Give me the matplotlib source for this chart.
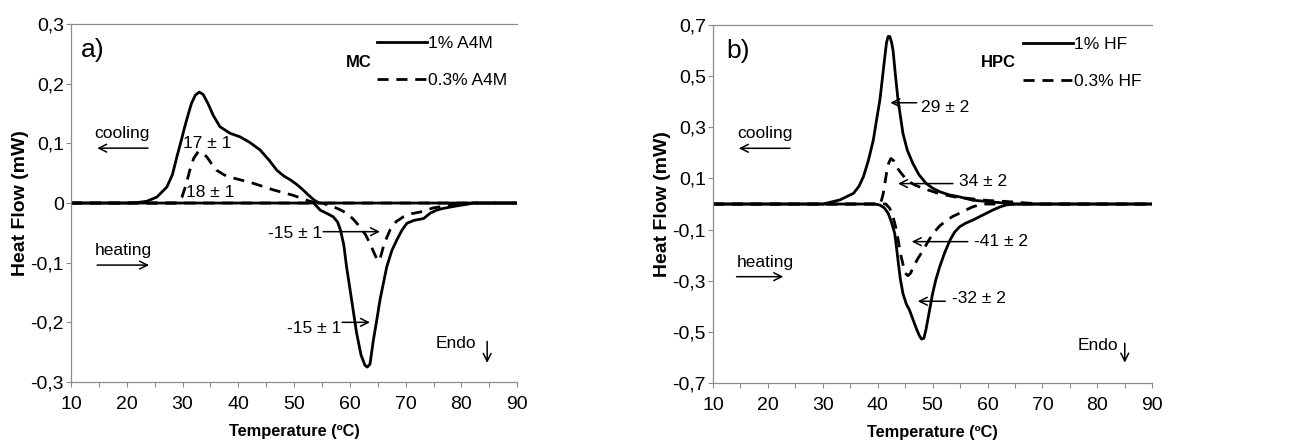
import matplotlib

matplotlib.use("Agg")
import matplotlib.pyplot as plt
from matplotlib.ticker import FuncFormatter, MultipleLocator

plt.rcParams["font.family"] = ["Liberation Sans", "DejaVu Sans"]

# ---- panel a) MC ----
mc_cool_1_t = [10, 20, 22, 23.6, 25.4, 27.2, 28.2, 29, 29.8, 30.4, 31, 31.6, 32.3,
               33, 33.7, 34.5, 35.5, 36.7, 38.5, 40.3, 42, 43.9, 45.5, 46.9, 48.2,
               49.3, 50.5, 51.6, 52.6, 53.6, 54.5, 90]
mc_cool_1_v = [0, 0, 0.001, 0.003, 0.01, 0.027, 0.048, 0.078, 0.106, 0.128, 0.148,
               0.167, 0.181, 0.186, 0.182, 0.168, 0.147, 0.128, 0.117, 0.111, 0.102,
               0.089, 0.072, 0.055, 0.045, 0.039, 0.031, 0.022, 0.013, 0.005, 0, 0]
mc_heat_1_t = [10, 53.5, 54.7, 56, 57, 57.8, 58.3, 58.9, 59.4, 60.3, 61.2, 62,
               62.7, 63.1, 63.6, 64.2, 64.8, 65.4, 66.6, 67.5, 68.4, 69.3, 70.2,
               71.5, 73.2, 74.4, 75.5, 76.7, 79, 81, 82, 90]
mc_heat_1_v = [0, 0, -0.012, -0.018, -0.023, -0.032, -0.045, -0.07, -0.107, -0.162,
               -0.218, -0.255, -0.272, -0.275, -0.27, -0.23, -0.197, -0.162, -0.107,
               -0.08, -0.062, -0.046, -0.034, -0.029, -0.026, -0.017, -0.012, -0.009,
               -0.005, -0.002, 0, 0]
mc_cool_03_t = [10, 29, 29.9, 30.6, 31.3, 32, 32.8, 33.5, 34.3, 35.2, 36.1, 37.5,
                39.1, 42.7, 46.3, 49.8, 52.5, 54, 90]
mc_cool_03_v = [0, 0, 0.01, 0.03, 0.055, 0.075, 0.086, 0.084, 0.078, 0.066, 0.055,
                0.047, 0.042, 0.033, 0.022, 0.013, 0.004, 0, 0]
mc_heat_03_t = [10, 55, 57, 58.2, 59.4, 60.6, 61.8, 62.8, 63.6, 64.3, 64.8, 65.3,
                66, 66.6, 67.2, 68.3, 69.6, 71, 72.6, 75, 78, 80.5, 82, 90]
mc_heat_03_v = [0, 0, -0.006, -0.011, -0.017, -0.027, -0.04, -0.053, -0.068, -0.083,
                -0.093, -0.097, -0.073, -0.058, -0.045, -0.031, -0.023, -0.018,
                -0.015, -0.008, -0.004, -0.002, 0, 0]

# ---- panel b) HPC ----
hpc_cool_1_t = [10, 30, 33.1, 35.6, 36.6, 37.4, 38.3, 39.2, 39.8, 40.4, 40.9, 41.3,
                41.6, 41.9, 42.2, 42.5, 42.8, 43.2, 43.7, 44.6, 45.4, 46.4, 47.5,
                48.8, 50, 51.3, 53, 54.9, 57.3, 60.9, 65, 90]
hpc_cool_1_v = [0, 0, 0.016, 0.042, 0.07, 0.107, 0.17, 0.25, 0.33, 0.407, 0.5, 0.576,
                0.63, 0.655, 0.655, 0.635, 0.6, 0.51, 0.407, 0.276, 0.21, 0.159, 0.115,
                0.081, 0.062, 0.048, 0.036, 0.028, 0.015, 0.008, 0, 0]
hpc_cool_03_t = [10, 40.5, 41, 41.6, 42, 42.4, 42.9, 43.4, 44.3, 45.3, 46.7, 48.3,
                 51.3, 54, 57.3, 60, 63.4, 66.4, 70, 90]
hpc_cool_03_v = [0, 0, 0.04, 0.12, 0.16, 0.178, 0.17, 0.146, 0.12, 0.094, 0.075,
                 0.061, 0.04, 0.028, 0.02, 0.014, 0.01, 0.005, 0, 0]
hpc_heat_1_t = [10, 39.5, 40.4, 41.2, 41.9, 42.5, 43.1, 43.4, 43.7, 44.1, 44.6,
                45.2, 45.8, 46.4, 47.1, 47.6, 48, 48.4, 48.8, 49.4, 50, 50.6, 51.3,
                52.2, 53.2, 54, 54.9, 56, 57.3, 58.5, 59.8, 61, 62.3, 63.5, 65, 90]
hpc_heat_1_v = [0, 0, -0.004, -0.015, -0.036, -0.07, -0.115, -0.165, -0.22, -0.29,
                -0.35, -0.39, -0.415, -0.45, -0.49, -0.515, -0.528, -0.525, -0.49,
                -0.42, -0.35, -0.295, -0.245, -0.19, -0.14, -0.11, -0.089, -0.075,
                -0.063, -0.05, -0.036, -0.023, -0.011, -0.003, 0, 0]
hpc_heat_03_t = [10, 41.5, 42.2, 42.8, 43.4, 43.8, 44.1, 44.6, 45, 45.5, 46, 46.5,
                 47.4, 48.3, 49.2, 50.1, 51.3, 52.6, 53.7, 54.9, 56.1, 57.3, 58.5,
                 59.5, 90]
hpc_heat_03_v = [0, 0, -0.017, -0.05, -0.1, -0.15, -0.19, -0.235, -0.27, -0.28,
                 -0.27, -0.245, -0.21, -0.18, -0.145, -0.115, -0.085, -0.063, -0.048,
                 -0.036, -0.023, -0.011, -0.003, 0, 0]

GREY = "#8c8c8c"
DASH = (0, (4.0, 2.8))
LW = 2.0
TICK_FS = 14
FS = 12.5


def comma(value, _pos):
    if abs(value) < 1e-9:
        return "0"
    return f"{value:.1f}".replace(".", ",")


def style_axis(ax, ymin, ymax, ystep):
    ax.set_xlim(10, 90)
    ax.set_ylim(ymin, ymax)
    ax.xaxis.set_major_locator(MultipleLocator(10))
    ax.xaxis.set_minor_locator(MultipleLocator(5))
    count = int(round((ymax - ymin) / ystep)) + 1
    ax.set_yticks([round(ymin + i * ystep, 2) for i in range(count)])
    ax.yaxis.set_major_formatter(FuncFormatter(comma))
    ax.tick_params(axis="both", which="both", direction="out", length=3.6,
                   width=0.8, color=GREY, labelsize=TICK_FS)
    ax.tick_params(axis="x", which="both", pad=6.5)
    ax.tick_params(axis="y", pad=1.5)
    for side in ("left", "bottom", "top"):
        ax.spines[side].set_color(GREY)
        ax.spines[side].set_linewidth(0.9)
    ax.spines["right"].set_visible(False)
    ax.set_xlabel("Temperature (ºC)", fontsize=11.8, fontweight="bold")
    ax.set_ylabel("Heat Flow (mW)", fontsize=14, fontweight="bold")
    ax.xaxis.set_label_coords(0.5, -0.118)
    ax.yaxis.set_label_coords(-0.095, 0.5)


def arrow(ax, x0, y0, x1, y1):
    ax.annotate("", xy=(x1, y1), xytext=(x0, y0),
                arrowprops=dict(arrowstyle="->", color="black", lw=1.1,
                                shrinkA=0, shrinkB=0, mutation_scale=14))


def add_legend(ax):
    h, l = ax.get_legend_handles_labels()
    ax.legend(h[::-1], l[::-1], loc="upper right", bbox_to_anchor=(1.0, 0.995),
              frameon=False, fontsize=FS, handlelength=2.9, handletextpad=0.05,
              labelspacing=1.25, borderaxespad=0.2)


fig = plt.figure(figsize=(12.9, 4.46), dpi=100)
ax1 = fig.add_axes([0.055, 0.1435, 0.346, 0.8025])
ax2 = fig.add_axes([0.5527, 0.141, 0.3405, 0.803])

# panel a
ax1.plot(mc_cool_03_t, mc_cool_03_v, color="black", lw=LW, linestyle=DASH)
ax1.plot(mc_heat_03_t, mc_heat_03_v, color="black", lw=LW, linestyle=DASH,
         label="0.3% A4M")
ax1.plot(mc_cool_1_t, mc_cool_1_v, color="black", lw=LW)
ax1.plot(mc_heat_1_t, mc_heat_1_v, color="black", lw=LW, label="1% A4M")
style_axis(ax1, -0.3, 0.3, 0.1)
add_legend(ax1)
ax1.text(11.8, 0.256, "a)", fontsize=19, va="center", ha="left")
ax1.text(61.5, 0.236, "MC", fontsize=12, fontweight="bold", va="center", ha="center")
ax1.text(19.2, 0.117, "cooling", fontsize=FS, va="center", ha="center")
arrow(ax1, 23.8, 0.092, 14.7, 0.092)
ax1.text(19.4, -0.079, "heating", fontsize=FS, va="center", ha="center")
arrow(ax1, 14.7, -0.104, 24.0, -0.104)
ax1.text(34.5, 0.1, "17 ± 1", fontsize=FS, va="center", ha="center")
ax1.text(35.0, 0.017, "18 ± 1", fontsize=FS, va="center", ha="center")
ax1.text(55.0, -0.051, "-15 ± 1", fontsize=FS, va="center", ha="right")
arrow(ax1, 55.2, -0.048, 65.4, -0.048)
ax1.text(58.5, -0.211, "-15 ± 1", fontsize=FS, va="center", ha="right")
arrow(ax1, 58.6, -0.2, 63.6, -0.2)
ax1.text(79.0, -0.235, "Endo", fontsize=FS, va="center", ha="center")
arrow(ax1, 84.6, -0.232, 84.6, -0.268)

# panel b
ax2.plot(hpc_cool_03_t, hpc_cool_03_v, color="black", lw=LW, linestyle=DASH)
ax2.plot(hpc_heat_03_t, hpc_heat_03_v, color="black", lw=LW, linestyle=DASH,
         label="0.3% HF")
ax2.plot(hpc_cool_1_t, hpc_cool_1_v, color="black", lw=LW)
ax2.plot(hpc_heat_1_t, hpc_heat_1_v, color="black", lw=LW, label="1% HF")
style_axis(ax2, -0.7, 0.7, 0.2)
add_legend(ax2)
ax2.text(12.5, 0.6, "b)", fontsize=19, va="center", ha="left")
ax2.text(62.0, 0.553, "HPC", fontsize=12, fontweight="bold", va="center", ha="center")
ax2.text(19.5, 0.277, "cooling", fontsize=FS, va="center", ha="center")
arrow(ax2, 24.0, 0.218, 14.7, 0.218)
ax2.text(19.5, -0.23, "heating", fontsize=FS, va="center", ha="center")
arrow(ax2, 14.3, -0.284, 22.8, -0.284)
ax2.text(47.8, 0.377, "29 ± 2", fontsize=FS, va="center", ha="left")
arrow(ax2, 47.1, 0.396, 42.3, 0.396)
ax2.text(54.8, 0.087, "34 ± 2", fontsize=FS, va="center", ha="left")
arrow(ax2, 53.7, 0.08, 43.7, 0.08)
ax2.text(57.5, -0.147, "-41 ± 2", fontsize=FS, va="center", ha="left")
arrow(ax2, 56.4, -0.147, 46.2, -0.147)
ax2.text(53.6, -0.37, "-32 ± 2", fontsize=FS, va="center", ha="left")
arrow(ax2, 52.3, -0.38, 47.3, -0.38)
ax2.text(80.2, -0.552, "Endo", fontsize=FS, va="center", ha="center")
arrow(ax2, 85.0, -0.544, 85.0, -0.62)

fig.savefig("out.png", dpi=100)
